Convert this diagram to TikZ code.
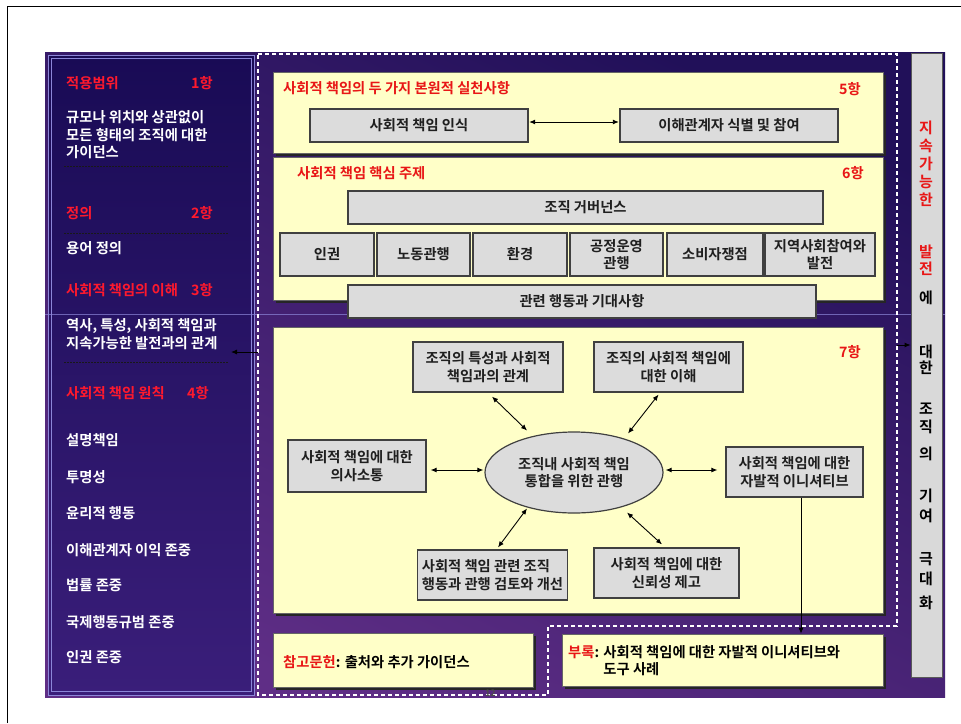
\documentclass[tikz,border=0pt]{standalone}
\usepackage{fontspec}
\setmainfont{Noto Sans CJK KR}[BoldFont={Noto Sans CJK KR Bold}]
\usetikzlibrary{arrows.meta,shapes.geometric,shadows,calc}
\definecolor{bgA}{HTML}{211059}
\definecolor{bgB}{HTML}{5F2E86}
\definecolor{lpA}{HTML}{190B55}
\definecolor{lpB}{HTML}{3A1E7A}
\definecolor{ylw}{HTML}{FFFFC8}
\definecolor{boxgray}{HTML}{DCDCDC}
\definecolor{lred}{RGB}{255,25,45}
\definecolor{tred}{RGB}{232,22,22}
\definecolor{lav}{HTML}{8C86D8}
\newcommand{\fs}{\fontsize{14.3pt}{17.5pt}\selectfont\bfseries}
\begin{document}
\begin{tikzpicture}[x=1pt,y=-1pt,font=\fs,
  gbox/.style={draw=black!75,line width=1.2pt,fill=boxgray,inner sep=2pt,text=black!88,align=center},
  ybox/.style={fill=ylw,draw=black!60,line width=0.6pt,inner sep=0pt,
    drop shadow={shadow xshift=2.5pt,shadow yshift=-2.5pt,opacity=1,fill=black!85}},
  dashw/.style={draw=white,dash pattern=on 4pt off 3pt,line width=1.1pt},
  lt/.style={anchor=west,inner sep=0pt,text=white,align=left},
  ldot/.style={draw=black!90,dash pattern=on 1.5pt off 1.5pt,line width=0.9pt},
  dbl/.style={{Latex[length=6pt,width=5pt]}-{Latex[length=6pt,width=5pt]},line width=0.9pt},
  sgl/.style={-{Latex[length=6pt,width=5pt]},line width=0.9pt},
  vch/.style={inner sep=0pt,font=\fontsize{15pt}{15pt}\selectfont\bfseries}]
\useasboundingbox (0,0) rectangle (961,723);
\fill[white] (0,0) rectangle (961,723);
% page frame
\draw[black,line width=1pt] (7,723) -- (7,6) -- (961,6);
% background
\shade[top color=bgA,bottom color=bgB,shading angle=-25] (45,52) rectangle (945,697);
\draw[lav,opacity=0.7,line width=0.8pt] (45,314) -- (945,314);
% left panel
\shade[top color=lpA,bottom color=lpB] (48,55) rectangle (254,695);
\draw[lav,opacity=0.7,line width=0.8pt] (48,314) -- (254,314);
\draw[lav,line width=0.9pt] (48,55) rectangle (254,695);
\draw[lav,line width=0.9pt] (51,58) rectangle (251,691);
% left panel texts
\node[lt,text=lred] (h1) at (66,83) {적용범위};
\node[lt,text=lred,anchor=east] (h1n) at (213,83) {1항};
\node[lt] (t1) at (66,135) {규모나 위치와 상관없이\\모든 형태의 조직에 대한\\가이던스};
\draw[ldot] (64,166) -- (228,166);
\node[lt,text=lred] (h2) at (66,213) {정의};
\node[lt,text=lred,anchor=east] (h2n) at (213,213) {2항};
\draw[ldot] (64,233) -- (228,233);
\node[lt] (t2) at (66,248) {용어 정의};
\node[lt,text=lred] (h3) at (66,290) {사회적 책임의 이해};
\node[lt,text=lred,anchor=east] (h3n) at (213,290) {3항};
\node[lt] (t3) at (66,334) {역사, 특성, 사회적 책임과\\지속가능한 발전과의 관계};
\draw[ldot] (64,362) -- (228,362);
\node[lt,text=lred] (h4) at (66,393) {사회적 책임 원칙};
\node[lt,text=lred,anchor=east] (h4n) at (209,393) {4항};
\node[lt] (p1) at (66,440) {설명책임};
\node[lt] (p2) at (66,477) {투명성};
\node[lt] (p3) at (66,513) {윤리적 행동};
\node[lt] (p4) at (66,550) {이해관계자 이익 존중};
\node[lt] (p5) at (66,585) {법률 존중};
\node[lt] (p6) at (66,622) {국제행동규범 존중};
\node[lt] (p7) at (66,657) {인권 존중};
% right bar
\node[draw=black!65,line width=0.8pt,fill=black!15,minimum width=31pt,minimum height=624pt,inner sep=0pt] (bar) at (926.5,365) {};
\foreach \c/\yy/\col in {지/128/tred,속/146/tred,가/164/tred,능/182/tred,한/200/tred,발/252/tred,전/269/tred,에/298/black,대/352/black,한/368/black,조/409/black,직/427/black,의/454/black,기/496/black,여/516/black,극/559/black,대/579/black,화/603/black}
  \node[vch,text=\col] at (926,\yy) {\c};
% dashed outline
\draw[dashw] (258,54) -- (897,54) -- (897,626) -- (548,626) -- (548,695) -- (258,695) -- cycle;
\coordinate (dl) at (258,352);
\coordinate (lp) at (231,352);
\coordinate (dr) at (897,345);
\draw[sgl,black] (dl) -- (lp);
\draw[sgl,black] (dr) -- (dr -| bar.west);
% yellow boxes
\node[ybox,minimum width=610pt,minimum height=81pt] (y5) at (578,112.5) {};
\node[ybox,minimum width=610pt,minimum height=143pt] (y6) at (578,228.5) {};
\node[ybox,minimum width=610pt,minimum height=286pt] (y7) at (578,470) {};
\node[ybox,minimum width=260pt,minimum height=54pt] (ref) at (403,660) {};
\node[ybox,minimum width=321pt,minimum height=52pt] (app) at (722.5,660) {};
\node[anchor=east,inner sep=0pt] (pg) at (496,693) {\fontsize{9pt}{9pt}\selectfont\color{black!70}12};
% section 5
\node[anchor=west,inner sep=0pt,text=tred] (s5) at (283,88) {사회적 책임의 두 가지 본원적 실천사항};
\node[inner sep=0pt,text=tred] (s5n) at (850,89) {5항};
\node[gbox,minimum width=218pt,minimum height=33pt] (k1) at (419,125.5) {사회적 책임 인식};
\node[gbox,minimum width=218pt,minimum height=33pt] (k2) at (729,125.5) {이해관계자 식별 및 참여};
\draw[dbl] ($(k1.east)+(0.6,-3.5)$) -- ($(k2.west)+(-0.6,-3.5)$);
% section 6
\node[anchor=west,inner sep=0pt,text=tred] (s6) at (297,173) {사회적 책임 핵심 주제};
\node[inner sep=0pt,text=tred] (s6n) at (853,173) {6항};
\node[gbox,minimum width=475pt,minimum height=33pt] (g0) at (585.5,207.5) {조직 거버넌스};
\node[gbox,minimum width=94pt,minimum height=43pt] (r1) at (327,254.5) {인권};
\node[gbox,minimum width=93pt,minimum height=43pt] (r2) at (423.5,254.5) {노동관행};
\node[gbox,minimum width=94pt,minimum height=43pt] (r3) at (520,254.5) {환경};
\node[gbox,minimum width=93pt,minimum height=43pt] (r4) at (616.5,254.5) {공정운영\\관행};
\node[gbox,minimum width=96pt,minimum height=43pt] (r5) at (715,254.5) {소비자쟁점};
\node[gbox,minimum width=110pt,minimum height=43pt] (r6) at (820,254.5) {지역사회참여와\\발전};
\node[gbox,minimum width=468pt,minimum height=33pt] (g7) at (582,301.5) {관련 행동과 기대사항};
% section 7
\node[inner sep=0pt,text=tred] (s7n) at (850,352) {7항};
\node[gbox,minimum width=150pt,minimum height=50pt] (b1) at (488,367) {조직의 특성과 사회적\\책임과의 관계};
\node[gbox,minimum width=149pt,minimum height=50pt] (b2) at (668.5,367) {조직의 사회적 책임에\\대한 이해};
\node[gbox,minimum width=138pt,minimum height=52pt] (b3) at (357,466) {사회적 책임에 대한\\의사소통};
\node[ellipse,draw=black!75,line width=1.2pt,fill=boxgray,minimum width=178pt,minimum height=81pt,inner sep=0pt,align=center,text=black!88] (ell) at (574,472.5) {조직내 사회적 책임\\통합을 위한 관행};
\node[gbox,minimum width=137pt,minimum height=50pt] (b4) at (794.5,472) {사회적 책임에 대한\\자발적 이니셔티브};
\node[gbox,minimum width=149pt,minimum height=50pt,align=left,inner sep=4pt] (b5) at (492.5,575) {사회적 책임 관련 조직\\행동과 관행 검토와 개선};
\node[gbox,minimum width=145pt,minimum height=50pt] (b6) at (666.5,573) {사회적 책임에 대한\\신뢰성 제고};
\draw[dbl] ($(b1.south)+(4,4)$) -- ($(ell.center)+(-47,-42)$);
\draw[dbl] ($(b2.south)+(-10,2)$) -- ($(ell.center)+(54,-39)$);
\draw[dbl] ($(b3.east)+(4,4)$) -- ($(ell.west)+(-1,-2.5)$);
\draw[dbl] ($(ell.east)+(2,-2.5)$) -- ($(b4.west)+(-8,-2)$);
\draw[dbl] ($(ell.center)+(-47,36)$) -- ($(b5.north)+(5.5,-2)$);
\draw[dbl] ($(ell.center)+(53,40)$) -- ($(b6.north)+(-4.5,-3)$);
\coordinate (vd) at ($(b4.south)+(6.5,0)$);
\draw[sgl] (vd) -- (vd |- app.north);
% bottom boxes text
\node[anchor=west,inner sep=0pt] (reft) at (283,662) {{\color{tred}참고문헌}: 출처와 추가 가이던스};
\node[anchor=north west,inner sep=0pt,align=left] (appt) at (568,645) {{\color{tred}부록}: 사회적 책임에 대한 자발적 이니셔티브와\\\hphantom{부록: }도구 사례};
\end{tikzpicture}
\end{document}
